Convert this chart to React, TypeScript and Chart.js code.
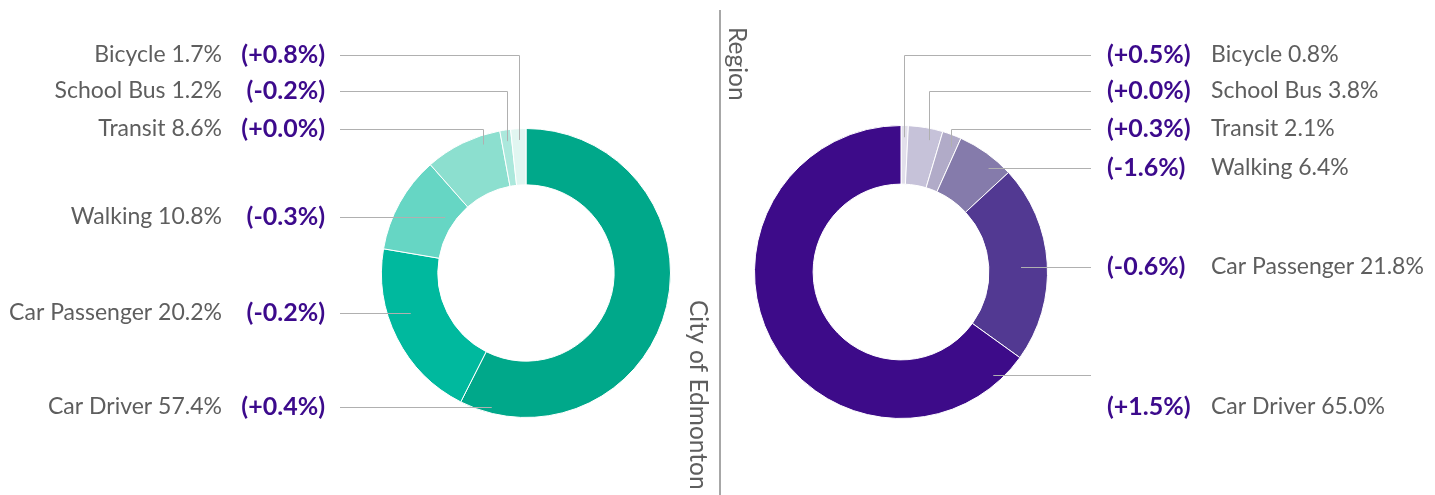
import React, { useEffect, useRef } from 'react';
import { Chart, registerables } from 'chart.js';

Chart.register(...registerables);

// ---- Data ----
const modes = ['Car Driver', 'Car Passenger', 'Walking', 'Transit', 'School Bus', 'Bicycle'];
const cityShare = [57.4, 20.2, 10.8, 8.6, 1.2, 1.7];
const cityChange = ['+0.4', '-0.2', '-0.3', '+0.0', '-0.2', '+0.8'];
// Region is drawn clockwise from the top starting with Bicycle
const regionModes = ['Bicycle', 'School Bus', 'Transit', 'Walking', 'Car Passenger', 'Car Driver'];
const regionShare = [0.8, 3.8, 2.1, 6.4, 21.8, 65.0];
const regionChange = ['+0.5', '+0.0', '+0.3', '-1.6', '-0.6', '+1.5'];

const cityTitle = 'City of Edmonton';
const regionTitle = 'Region';

// ---- Styles ----
const cityColors = ['#00a88a', '#00b99e', '#66d6c4', '#8cdfcf', '#abe8dc', '#e1f6f1'];
const regionColors = ['#e2dfeb', '#c6c2d9', '#b1abc8', '#857bab', '#523992', '#3d0b89'];
const FONT = 'Lato, "Open Sans", sans-serif';
const TEXT = '#5e5e5e';
const CHANGE = '#3c0a8c';
const LINE = '#b0b0b0';
const NAME_FONT = '400 23px ' + FONT;
const CHANGE_FONT = '700 25px ' + FONT;
const TITLE_FONT = '400 24.5px ' + FONT;

type Leader = { y: number; lineY?: number; kind: 'h' | 'elbow'; rf: number; af?: number };

// layout of labels / leader lines (annotation positions, not marks)
const cityLeaders: Leader[] = [
  { y: 407, kind: 'h', rf: 0.89 },
  { y: 313, kind: 'h', rf: 0.6 },
  { y: 217, kind: 'h', rf: 0.18 },
  { y: 129, kind: 'elbow', rf: 0.84, af: 0.74 },
  { y: 91, kind: 'elbow', rf: 0.8, af: 0.5 },
  { y: 55, kind: 'elbow', rf: 0.8, af: 0.5 },
];
const regionLeaders: Leader[] = [
  { y: 55, kind: 'elbow', rf: 0.8, af: 0.45 },
  { y: 91, kind: 'elbow', rf: 0.8, af: 0.67 },
  { y: 129, kind: 'elbow', rf: 0.8, af: 0.7 },
  { y: 168, kind: 'h', rf: 0.82 },
  { y: 267, kind: 'h', rf: 0.55 },
  { y: 407, lineY: 375, kind: 'h', rf: 0.86 },
];

const W = 1435;
const H = 495;

function labelPlugin(side: 'left' | 'right', names: string[], shares: number[], changes: string[], leaders: Leader[]) {
  return {
    id: 'labels-' + side,
    afterDraw(chart: any) {
      const ctx = chart.ctx as CanvasRenderingContext2D;
      const meta = chart.getDatasetMeta(0);
      ctx.save();
      meta.data.forEach((arc: any, i: number) => {
        const L = leaders[i];
        const { x: cx, y: cy, startAngle, endAngle, innerRadius, outerRadius } = arc.getProps(
          ['x', 'y', 'startAngle', 'endAngle', 'innerRadius', 'outerRadius'],
          true
        );
        const r = innerRadius + L.rf * (outerRadius - innerRadius);
        const ly = L.lineY ?? L.y;
        const lineStart = side === 'left' ? 340 : 1091;
        ctx.strokeStyle = LINE;
        ctx.lineWidth = 1;
        ctx.beginPath();
        if (L.kind === 'elbow') {
          const a = startAngle + (L.af ?? 0.5) * (endAngle - startAngle);
          const ex = cx + r * Math.cos(a);
          const ey = cy + r * Math.sin(a);
          ctx.moveTo(lineStart, ly + 0.5);
          ctx.lineTo(Math.round(ex) + 0.5, ly + 0.5);
          ctx.lineTo(Math.round(ex) + 0.5, ey);
        } else {
          const dy = ly - cy;
          const dx = Math.sqrt(Math.max(r * r - dy * dy, 0));
          const ex = side === 'left' ? cx - dx : cx + dx;
          ctx.moveTo(lineStart, ly + 0.5);
          ctx.lineTo(ex, ly + 0.5);
        }
        ctx.stroke();

        const nameText = names[i] + ' ' + shares[i].toFixed(1) + '%';
        const chText = '(' + changes[i] + '%)';
        ctx.textBaseline = 'middle';
        if (side === 'left') {
          ctx.font = NAME_FONT;
          ctx.fillStyle = TEXT;
          ctx.textAlign = 'right';
          ctx.fillText(nameText, 222, L.y);
          ctx.font = CHANGE_FONT;
          ctx.fillStyle = CHANGE;
          ctx.fillText(chText, 325, L.y);
        } else {
          ctx.font = CHANGE_FONT;
          ctx.fillStyle = CHANGE;
          ctx.textAlign = 'left';
          ctx.fillText(chText, 1107, L.y);
          ctx.font = NAME_FONT;
          ctx.fillStyle = TEXT;
          ctx.fillText(nameText, 1211, L.y);
        }
      });

      // titles and divider
      ctx.font = TITLE_FONT;
      ctx.fillStyle = TEXT;
      ctx.textBaseline = 'middle';
      ctx.textAlign = 'left';
      if (side === 'left') {
        ctx.strokeStyle = '#8a8a8a';
        ctx.lineWidth = 1.5;
        ctx.beginPath();
        ctx.moveTo(720, 10);
        ctx.lineTo(720, H);
        ctx.stroke();
        ctx.save();
        ctx.translate(698, 300);
        ctx.rotate(Math.PI / 2);
        ctx.fillText(cityTitle, 0, 0);
        ctx.restore();
      } else {
        ctx.save();
        ctx.translate(737, 27);
        ctx.rotate(Math.PI / 2);
        ctx.fillText(regionTitle, 0, 0);
        ctx.restore();
      }
      ctx.restore();
    },
  };
}

function makeConfig(
  labels: string[],
  values: number[],
  colors: string[],
  cutout: string,
  padding: { left: number; right: number; top: number; bottom: number },
  plugin: any
): any {
  return {
    type: 'doughnut',
    data: {
      labels,
      datasets: [
        {
          data: values,
          backgroundColor: colors,
          borderColor: '#ffffff',
          borderWidth: 1,
        },
      ],
    },
    options: {
      responsive: false,
      animation: false,
      events: [],
      cutout,
      layout: { padding },
      plugins: {
        legend: { display: false },
        tooltip: { enabled: false },
        title: { display: false },
      },
    },
    plugins: [plugin],
  };
}

export default function App() {
  const leftRef = useRef<HTMLCanvasElement | null>(null);
  const rightRef = useRef<HTMLCanvasElement | null>(null);

  useEffect(() => {
    const left = new Chart(
      leftRef.current as HTMLCanvasElement,
      makeConfig(
        modes,
        cityShare,
        cityColors,
        '61%',
        { left: 381, right: W - 671, top: 128, bottom: H - 418 },
        labelPlugin('left', modes, cityShare, cityChange, cityLeaders)
      )
    );
    const right = new Chart(
      rightRef.current as HTMLCanvasElement,
      makeConfig(
        regionModes,
        regionShare,
        regionColors,
        '60%',
        { left: 754, right: W - 1048, top: 125, bottom: H - 419 },
        labelPlugin('right', regionModes, regionShare, regionChange, regionLeaders)
      )
    );
    return () => {
      left.destroy();
      right.destroy();
    };
  }, []);

  const canvasStyle: React.CSSProperties = {
    position: 'absolute',
    left: 0,
    top: 0,
    width: W,
    height: H,
    display: 'block',
  };

  return (
    <div style={{ position: 'absolute', left: 0, top: 0, width: W, height: H, background: '#fff' }}>
      <canvas ref={leftRef} width={W} height={H} style={canvasStyle} />
      <canvas ref={rightRef} width={W} height={H} style={canvasStyle} />
    </div>
  );
}
